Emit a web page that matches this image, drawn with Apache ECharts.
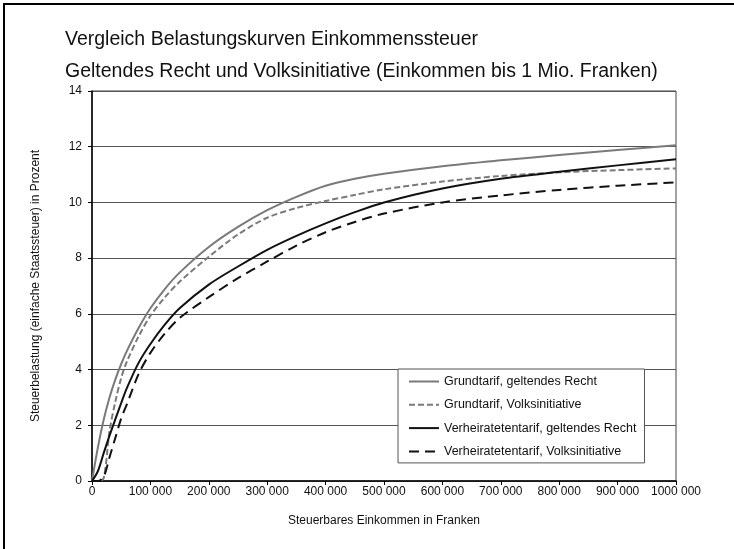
<!DOCTYPE html>
<html>
<head>
<meta charset="utf-8">
<script src="https://cdn.jsdelivr.net/npm/echarts@6/dist/echarts.min.js"></script>
<style>
  html, body { margin: 0; padding: 0; background: #fff; }
  #chart { width: 734px; height: 549px; }
</style>
</head>
<body>
<div id="chart"></div>
<script>
// Steuerbares Einkommen (Franken)
const incomes = [0, 10000, 20000, 30000, 40000, 50000, 60000, 80000, 100000, 125000, 150000,
  200000, 250000, 300000, 350000, 400000, 450000, 500000, 600000, 700000, 800000, 900000, 1000000];

const grundGeltend = [0, 1.2, 2.2, 3.0, 3.65, 4.2, 4.68, 5.5, 6.2, 6.9, 7.48,
  8.4, 9.12, 9.72, 10.2, 10.6, 10.85, 11.03, 11.3, 11.51, 11.7, 11.88, 12.05];
const grundInitiative = [0, 0, 0.1, 1.8, 2.85, 3.7, 4.3, 5.2, 5.93, 6.6, 7.15,
  8.05, 8.85, 9.45, 9.8, 10.05, 10.27, 10.47, 10.75, 10.95, 11.08, 11.16, 11.22];
const verhGeltend = [0, 0.35, 1.0, 1.63, 2.22, 2.8, 3.35, 4.25, 4.92, 5.62, 6.2,
  7.05, 7.7, 8.3, 8.8, 9.25, 9.65, 10.0, 10.5, 10.85, 11.1, 11.33, 11.55];
const verhInitiative = [0, 0, 0.15, 0.85, 1.55, 2.25, 2.77, 3.85, 4.6, 5.3, 5.85,
  6.6, 7.28, 7.88, 8.45, 8.93, 9.3, 9.6, 10.0, 10.25, 10.45, 10.6, 10.72];

const seriesNames = [
  'Grundtarif, geltendes Recht',
  'Grundtarif, Volksinitiative',
  'Verheiratetentarif, geltendes Recht',
  'Verheiratetentarif, Volksinitiative'
];

const FONT = '"Liberation Sans", Arial, sans-serif';

function pairs(values) {
  return incomes.map(function (x, i) { return [x, values[i]]; });
}

function makeLine(name, values, color, type) {
  return {
    name: name,
    type: 'line',
    data: pairs(values),
    symbol: 'none',
    smooth: 0.3,
    lineStyle: { color: color, width: 2, type: type },
    itemStyle: { color: color }
  };
}

const myChart = echarts.init(document.getElementById('chart'));

myChart.setOption({
  animation: false,
  backgroundColor: '#fff',
  title: {
    text: 'Vergleich Belastungskurven Einkommenssteuer\nGeltendes Recht und Volksinitiative (Einkommen bis 1 Mio. Franken)',
    left: 60,
    top: 19,
    textStyle: {
      fontFamily: FONT,
      fontSize: 19.5,
      fontWeight: 'normal',
      color: '#111',
      lineHeight: 32
    }
  },
  graphic: [
    { type: 'rect', shape: { x: 3, y: 3, width: 731, height: 2 }, style: { fill: '#000' } },
    { type: 'rect', shape: { x: 3, y: 3, width: 2, height: 546 }, style: { fill: '#000' } }
  ],
  legend: {
    orient: 'vertical',
    left: 398,
    top: 369,
    data: seriesNames,
    itemWidth: 30,
    itemHeight: 14,
    itemGap: 10.3,
    padding: [6, 8, 5, 10],
    backgroundColor: '#fff',
    borderColor: '#555',
    borderWidth: 1,
    itemStyle: { opacity: 0 },
    textStyle: { fontFamily: FONT, fontSize: 12.5, color: '#111' }
  },
  grid: {
    left: 92,
    right: 58,
    top: 91,
    bottom: 68,
    show: true,
    borderColor: '#444',
    borderWidth: 1
  },
  xAxis: {
    type: 'value',
    min: 0,
    max: 1000000,
    interval: 100000,
    name: 'Steuerbares Einkommen in Franken',
    nameLocation: 'middle',
    nameGap: 34,
    nameTextStyle: { fontFamily: FONT, fontSize: 12, color: '#111' },
    axisLine: { lineStyle: { color: '#000', width: 1.5 } },
    axisTick: { show: true, length: 4, lineStyle: { color: '#000' } },
    splitLine: { show: false },
    axisLabel: {
      margin: 5,
      fontFamily: FONT,
      fontSize: 12,
      color: '#111',
      formatter: function (v) {
        return v === 0 ? '0' : Math.floor(v / 1000) + ' 000';
      }
    }
  },
  yAxis: {
    type: 'value',
    min: 0,
    max: 14,
    interval: 2,
    name: 'Steuerbelastung (einfache Staatssteuer) in Prozent',
    nameLocation: 'middle',
    nameGap: 50,
    nameTextStyle: { fontFamily: FONT, fontSize: 12, color: '#111' },
    axisLine: { show: true, lineStyle: { color: '#000', width: 1.5 } },
    axisTick: { show: true, length: 4, lineStyle: { color: '#000' } },
    splitLine: { show: true, lineStyle: { color: '#555', width: 1 } },
    axisLabel: { margin: 10, fontFamily: FONT, fontSize: 12, color: '#111' }
  },
  series: [
    makeLine(seriesNames[0], grundGeltend, '#7a7a7a', 'solid'),
    makeLine(seriesNames[1], grundInitiative, '#7a7a7a', [6, 3]),
    makeLine(seriesNames[2], verhGeltend, '#111', 'solid'),
    makeLine(seriesNames[3], verhInitiative, '#111', [10, 6])
  ]
});
</script>
</body>
</html>
